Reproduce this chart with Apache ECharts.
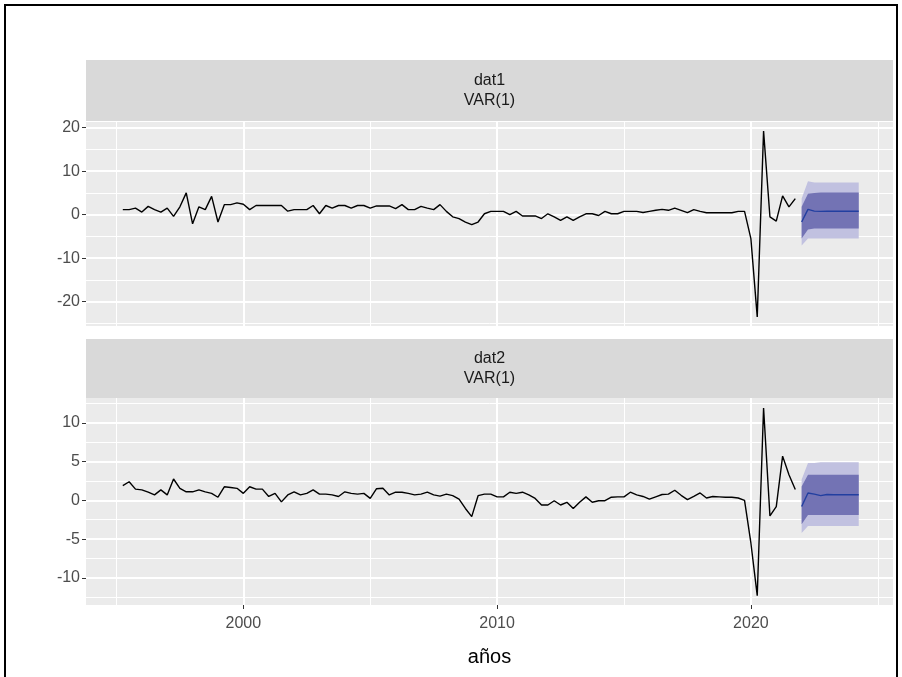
<!DOCTYPE html>
<html>
<head>
<meta charset="utf-8">
<script src="https://cdn.jsdelivr.net/npm/echarts@6/dist/echarts.min.js"></script>
<style>
html,body{margin:0;padding:0;background:#fff;}
#chart{width:902px;height:677px;}
</style>
</head>
<body>
<div id="chart"></div>
<script>
// ---- data (quarterly, starting 1995 Q2) ----
const histStart = 1995.25;
const fcStart = 2022.0;
const panelTitles = ["dat1\nVAR(1)", "dat2\nVAR(1)"];
const xAxisTitle = "años";
const xMajorTicks = [2000, 2010, 2020];
const xMinorTicks = [1995, 2005, 2015, 2025];
const y1MajorTicks = [-20, -10, 0, 10, 20];
const y1MinorTicks = [-25, -15, -5, 5, 15];
const y2MajorTicks = [-10, -5, 0, 5, 10];
const y2MinorTicks = [-12.5, -7.5, -2.5, 2.5, 7.5, 12.5];

const dat1 = [1.15,1.15,1.5,0.6,1.9,1.15,0.6,1.5,-0.4,1.8,
  5.0,-2.1,1.8,1.15,4.2,-1.7,2.3,2.3,2.7,2.4,
  1.15,2.1,2.1,2.1,2.1,2.1,0.8,1.15,1.15,1.15,
  2.1,0.2,2.1,1.5,2.1,2.1,1.5,2.1,2.1,1.5,
  2.0,2.0,2.0,1.4,2.3,1.15,1.15,1.9,1.5,1.15,
  2.3,0.75,-0.5,-0.9,-1.7,-2.3,-1.7,0.2,0.75,0.75,
  0.75,0.0,0.75,-0.3,-0.3,-0.3,-0.9,0.2,-0.5,-1.3,
  -0.5,-1.3,-0.5,0.2,0.2,-0.2,0.75,0.2,0.2,0.75,
  0.75,0.75,0.5,0.75,1.0,1.2,1.0,1.5,1.0,0.45,
  1.15,0.75,0.45,0.45,0.45,0.45,0.45,0.75,0.75,-5.5,
  -23.5,19.2,-0.5,-1.5,4.3,1.8,3.7];
const dat2 = [1.9,2.4,1.45,1.35,1.05,0.7,1.35,0.7,2.75,1.55,
  1.1,1.1,1.35,1.1,0.9,0.4,1.75,1.65,1.55,0.9,
  1.75,1.45,1.45,0.5,0.9,-0.2,0.7,1.1,0.7,0.9,
  1.35,0.8,0.8,0.7,0.5,1.1,0.9,0.8,0.9,0.25,
  1.5,1.55,0.7,1.05,1.05,0.9,0.7,0.8,1.05,0.7,
  0.55,0.8,0.6,0.15,-1.05,-2.1,0.6,0.8,0.8,0.45,
  0.45,1.05,0.9,1.05,0.7,0.25,-0.6,-0.6,-0.05,-0.6,
  -0.25,-1.05,-0.25,0.45,-0.25,-0.05,-0.05,0.4,0.45,0.45,
  1.05,0.7,0.5,0.15,0.45,0.75,0.8,1.3,0.65,0.1,
  0.5,0.95,0.3,0.5,0.45,0.4,0.4,0.3,0.0,-5.5,
  -12.3,11.9,-2.0,-0.8,5.7,3.3,1.4];

// forecasts (10 quarters from 2022 Q1)
const fc1Mean = [-1.7,1.2,0.8,0.75,0.77,0.77,0.77,0.77,0.77,0.77];
const fc1Lo80 = [-5.5,-3.4,-3.2,-3.2,-3.2,-3.2,-3.2,-3.2,-3.2,-3.2];
const fc1Hi80 = [1.8,4.8,5.0,5.1,5.1,5.1,5.1,5.1,5.1,5.1];
const fc1Lo95 = [-7.1,-5.5,-5.5,-5.5,-5.5,-5.5,-5.5,-5.5,-5.5,-5.5];
const fc1Hi95 = [3.7,7.7,7.4,7.4,7.4,7.4,7.4,7.4,7.4,7.4];
const fc2Mean = [-0.8,0.95,0.8,0.6,0.75,0.73,0.73,0.73,0.73,0.73];
const fc2Lo80 = [-3.1,-1.9,-1.9,-1.9,-1.9,-1.9,-1.9,-1.9,-1.9,-1.9];
const fc2Hi80 = [1.8,3.3,3.3,3.3,3.3,3.3,3.3,3.3,3.3,3.3];
const fc2Lo95 = [-4.2,-3.3,-3.3,-3.3,-3.3,-3.3,-3.3,-3.3,-3.3,-3.3];
const fc2Hi95 = [2.7,4.8,4.8,4.9,4.9,4.9,4.9,4.9,4.9,4.9];

// ---- build ----
const step = 0.25;
function pairs(start, arr){ return arr.map((v,i)=>[start + i*step, v]); }
function bandTriples(start, lo, hi){ return lo.map((v,i)=>[start + i*step, v, hi[i]]); }

const FONT = "'Liberation Sans', Arial, sans-serif";
const L = 86, W = 807;
const grids = [
  {left: L, top: 122, width: W, height: 204},
  {left: L, top: 398, width: W, height: 207}
];
const xr = [1993.8, 2025.6];
const yr = [[-25.6, 21.3],[-13.5, 13.2]];

const xAxes = [], yAxes = [];
grids.forEach((g, gi) => {
  xAxes.push({type:'value', gridIndex: gi, min: xr[0], max: xr[1], position:'bottom',
    axisLine:{show:false, onZero:false},
    axisTick:{show: gi===1, length:4, lineStyle:{color:'#333333', width:1}, customValues: xMajorTicks},
    axisLabel:{show: gi===1, customValues: xMajorTicks, color:'#4D4D4D', fontSize:16, fontFamily:FONT, margin:11,
      formatter: v => String(v)},
    splitLine:{show:true, lineStyle:{color:'#FFFFFF', width:2}}});
  xAxes.push({type:'value', gridIndex: gi, min: xr[0], max: xr[1], position:'bottom',
    axisLine:{show:false, onZero:false},
    axisTick:{show:false, customValues: xMinorTicks},
    axisLabel:{show:false, customValues: xMinorTicks},
    splitLine:{show:true, lineStyle:{color:'#FFFFFF', width:1}}});
  const maj = gi===0 ? y1MajorTicks : y2MajorTicks;
  const mnr = gi===0 ? y1MinorTicks : y2MinorTicks;
  yAxes.push({type:'value', gridIndex: gi, min: yr[gi][0], max: yr[gi][1], position:'left',
    axisLine:{show:false, onZero:false},
    axisTick:{show:true, length:4, lineStyle:{color:'#333333', width:1}, customValues: maj},
    axisLabel:{show:true, customValues: maj, color:'#4D4D4D', fontSize:16, fontFamily:FONT, margin:6,
      formatter: v => String(v)},
    splitLine:{show:true, lineStyle:{color:'#FFFFFF', width:2}}});
  yAxes.push({type:'value', gridIndex: gi, min: yr[gi][0], max: yr[gi][1], position:'left',
    axisLine:{show:false, onZero:false},
    axisTick:{show:false, customValues: mnr},
    axisLabel:{show:false, customValues: mnr},
    splitLine:{show:true, lineStyle:{color:'#FFFFFF', width:1}}});
});

const series = [];
function addBand(gi, lo, hi, color, z){
  const tri = bandTriples(fcStart, lo, hi);
  series.push({type:'custom', xAxisIndex: gi*2, yAxisIndex: gi*2, silent:true, z: z,
    data: tri,
    encode:{x:0, y:[1,2]},
    renderItem: function(params, api){
      if (params.dataIndex !== 0) return null;
      const upper = [], lower = [];
      for (let i = 0; i < tri.length; i++){
        upper.push(api.coord([tri[i][0], tri[i][2]]));
        lower.push(api.coord([tri[i][0], tri[i][1]]));
      }
      const pts = upper.concat(lower.reverse());
      return {type:'polygon', shape:{points: pts}, style:{fill: color, stroke: null}};
    }
  });
}
function addPanel(gi, hist, mean, lo80, hi80, lo95, hi95){
  addBand(gi, lo95, hi95, '#C1C1E0', 2);
  addBand(gi, lo80, hi80, '#7373B4', 3);
  const base = {type:'line', xAxisIndex: gi*2, yAxisIndex: gi*2, showSymbol:false, symbol:'none', silent:true, z:4};
  series.push(Object.assign({}, base, {name:'mean_'+gi, data: pairs(fcStart, mean), lineStyle:{color:'#223FA0', width:1.4}}));
  series.push(Object.assign({}, base, {name:'hist_'+gi, data: pairs(histStart, hist), lineStyle:{color:'#000000', width:1.4}}));
}
addPanel(0, dat1, fc1Mean, fc1Lo80, fc1Hi80, fc1Lo95, fc1Hi95);
addPanel(1, dat2, fc2Mean, fc2Lo80, fc2Hi80, fc2Lo95, fc2Hi95);

const strips = [{y:60, h:61}, {y:339, h:59}];
const graphic = [];
strips.forEach((s, i) => {
  graphic.push({type:'rect', left:L, top:s.y, shape:{width:W, height:s.h}, style:{fill:'#D9D9D9'}, silent:true, z:-1});
  graphic.push({type:'text', x: L + W/2, y: s.y + s.h/2, style:{text: panelTitles[i], fill:'#1A1A1A', font: '16px ' + FONT, align:'center', verticalAlign:'middle', lineHeight:20}, silent:true});
});
graphic.push({type:'text', x: L + W/2, y: 657, style:{text: xAxisTitle, fill:'#000000', font:'20px ' + FONT, align:'center', verticalAlign:'middle'}, silent:true});
graphic.push({type:'rect', shape:{x:5, y:5, width:892, height:690}, style:{fill:null, stroke:'#000000', lineWidth:2}, silent:true, z:100});

const chart = echarts.init(document.getElementById('chart'), null, {renderer:'canvas'});
chart.setOption({
  backgroundColor:'#FFFFFF',
  animation:false,
  grid: grids.map(g => Object.assign({show:true, backgroundColor:'#EBEBEB', borderWidth:0, containLabel:false}, g)),
  xAxis: xAxes,
  yAxis: yAxes,
  series: series,
  graphic: graphic
});
</script>
</body>
</html>
